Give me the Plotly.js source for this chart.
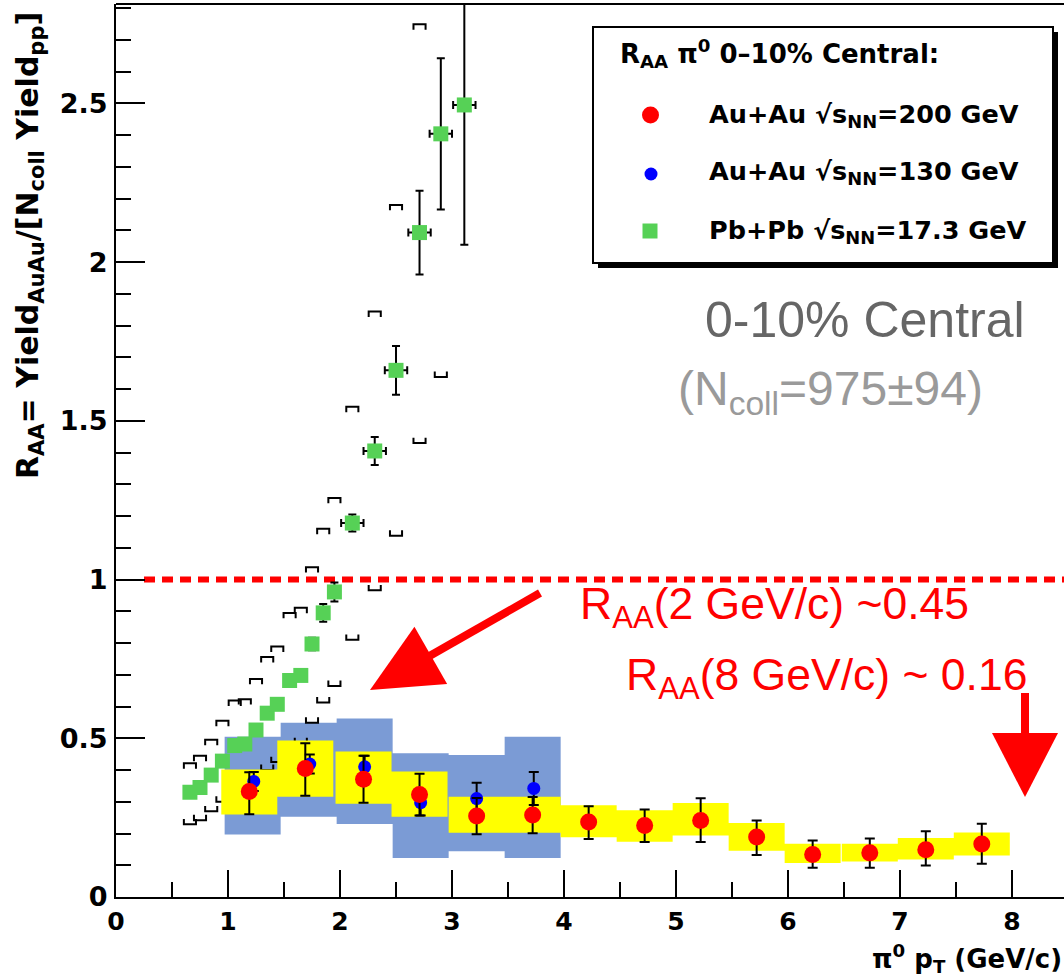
<!DOCTYPE html>
<html>
<head>
<meta charset="utf-8">
<script src="https://cdn.plot.ly/plotly-3.0.1.min.js"></script>
<style>html,body{margin:0;padding:0;background:#fff;}#plot{width:1064px;height:978px;}</style>
</head>
<body>
<div id="plot"></div>
<script>
// ---------------- data ----------------
// Au+Au sqrt(sNN)=200 GeV
const ptAuAu200 = [1.19,1.69,2.21,2.71,3.22,3.72,4.22,4.72,5.22,5.72,6.22,6.73,7.23,7.73];
const raaAuAu200 = [0.332,0.405,0.371,0.323,0.255,0.258,0.236,0.225,0.241,0.189,0.134,0.139,0.149,0.167];
const statUpAuAu200 = [0.061,0.079,0.074,0.065,0.057,0.057,0.050,0.051,0.070,0.052,0.044,0.045,0.058,0.064];
const statDownAuAu200 = [0.071,0.086,0.074,0.066,0.057,0.057,0.053,0.052,0.068,0.057,0.042,0.047,0.050,0.062];
const sysLowAuAu200 = [0.260,0.316,0.294,0.253,0.202,0.202,0.188,0.174,0.194,0.146,0.107,0.112,0.118,0.131];
const sysHighAuAu200 = [0.402,0.493,0.458,0.395,0.316,0.316,0.289,0.273,0.296,0.233,0.168,0.168,0.186,0.203];

// Au+Au sqrt(sNN)=130 GeV
const ptAuAu130 = [1.23,1.73,2.22,2.72,3.22,3.73];
const raaAuAu130 = [0.364,0.419,0.410,0.297,0.310,0.342];
const statAuAu130 = [0.030,0.030,0.035,0.040,0.050,0.052];
const sysBinAuAu130 = [1.22,1.72,2.22,2.72,3.22,3.72];
const sysLowAuAu130 = [0.197,0.253,0.230,0.123,0.144,0.123];
const sysHighAuAu130 = [0.505,0.549,0.562,0.453,0.447,0.505];

// Pb+Pb sqrt(sNN)=17.3 GeV
const ptPbPb = [0.66,0.75,0.85,0.95,1.06,1.15,1.25,1.35,1.44,1.55,1.65,1.75,1.85,1.95,2.11,2.31,2.50,2.71,2.90,3.11];
const raaPbPb = [0.330,0.345,0.384,0.428,0.477,0.482,0.526,0.579,0.607,0.682,0.698,0.797,0.895,0.961,1.178,1.405,1.659,2.093,2.404,2.495];
const statPbPb = [0.010,0.010,0.010,0.010,0.010,0.010,0.012,0.012,0.013,0.015,0.015,0.020,0.028,0.030,0.027,0.044,0.077,0.132,0.238,0.440];
const binHalfPbPb = [0.05,0.05,0.05,0.05,0.05,0.05,0.05,0.05,0.05,0.05,0.05,0.05,0.05,0.05,0.1,0.1,0.1,0.1,0.1,0.1];
const sysUpPbPb = [0.421,0.445,0.495,0.555,0.619,0.623,0.687,0.756,0.789,0.895,0.911,1.039,1.160,1.257,1.544,1.844,2.180,2.749,3.170,null];
const sysDownPbPb = [0.229,0.242,0.270,0.300,0.335,0.341,0.365,0.400,0.425,0.469,0.485,0.549,0.613,0.665,0.810,0.966,1.138,1.430,1.638,null];

// reference line R_AA = 1
const refLineX = [0.25, 8.464];
const refLineY = [1, 1];

// axis ranges
const xRange = [0, 8.464];
const yRange = [0, 2.813];

// ---------------- helpers ----------------
const L = 116, T = 4, PW = 948, PH = 893;
const px = x => (x - L) / PW;          // pixel -> paper x
const py = y => (T + PH - y) / PH;     // pixel -> paper y

function boxes(centers, lows, highs, halfW) {
  const xs = [], ys = [];
  centers.forEach((c, i) => {
    xs.push(c - halfW, c + halfW, c + halfW, c - halfW, c - halfW, null);
    ys.push(lows[i], lows[i], highs[i], highs[i], lows[i], null);
  });
  return {x: xs, y: ys};
}
function brackets(xv, up, down, hw, d) {
  const xs = [], ys = [];
  xv.forEach((x, i) => {
    if (up[i] !== null) {
      xs.push(x - hw, x - hw, x + hw, x + hw, null);
      ys.push(up[i] - d, up[i], up[i], up[i] - d, null);
    }
    if (down[i] !== null) {
      xs.push(x - hw, x - hw, x + hw, x + hw, null);
      ys.push(down[i] + d, down[i], down[i], down[i] + d, null);
    }
  });
  return {x: xs, y: ys};
}

const blueBox = boxes(sysBinAuAu130, sysLowAuAu130, sysHighAuAu130, 0.25);
const yellowBox = boxes(ptAuAu200, sysLowAuAu200, sysHighAuAu200, 0.25);
const br = brackets(ptPbPb, sysUpPbPb, sysDownPbPb, 0.054, 0.017);

const ROOTFONT = {family: 'DejaVu Sans', weight: 'bold', color: '#000'};

const traces = [
  {x: blueBox.x, y: blueBox.y, mode: 'lines', fill: 'toself', fillcolor: '#7b9bd5',
   line: {width: 0, color: '#7b9bd5'}, hoverinfo: 'skip', showlegend: false},
  {x: br.x, y: br.y, mode: 'lines', line: {width: 2, color: '#000'}, hoverinfo: 'skip', showlegend: false},
  {x: yellowBox.x, y: yellowBox.y, mode: 'lines', fill: 'toself', fillcolor: '#ffff00',
   line: {width: 0, color: '#ffff00'}, hoverinfo: 'skip', showlegend: false},
  {x: refLineX, y: refLineY, mode: 'lines', line: {color: '#ff0000', width: 6, dash: '11px,7px'},
   hoverinfo: 'skip', showlegend: false},
  {name: 'Pb+Pb 17.3 GeV', x: ptPbPb, y: raaPbPb, mode: 'markers',
   marker: {symbol: 'square', size: 15, color: '#56d156'},
   error_y: {type: 'data', array: statPbPb, color: '#000', thickness: 2, width: 4},
   error_x: {type: 'data', array: binHalfPbPb, color: '#000', thickness: 2, width: 4},
   showlegend: false},
  {name: 'Au+Au 130 GeV', x: ptAuAu130, y: raaAuAu130, mode: 'markers',
   marker: {symbol: 'circle', size: 13, color: '#0000ff'},
   error_y: {type: 'data', array: statAuAu130, color: '#000', thickness: 2, width: 5},
   showlegend: false},
  {name: 'Au+Au 200 GeV', x: ptAuAu200, y: raaAuAu200, mode: 'markers',
   marker: {symbol: 'circle', size: 17, color: '#ff0000'},
   error_y: {type: 'data', symmetric: false, array: statUpAuAu200, arrayminus: statDownAuAu200,
             color: '#000', thickness: 2, width: 5},
   showlegend: false}
];

// arrows (decoration)
function arrowShapes(tail, tip, headLen, headHalf, shaftW) {
  const dx = tip[0] - tail[0], dy = tip[1] - tail[1];
  const len = Math.hypot(dx, dy), ux = dx / len, uy = dy / len;
  const bx = tip[0] - headLen * ux, by = tip[1] - headLen * uy;
  const nx = -uy, ny = ux;
  const c1 = [bx + headHalf * nx, by + headHalf * ny], c2 = [bx - headHalf * nx, by - headHalf * ny];
  return [
    {type: 'line', xref: 'paper', yref: 'paper', x0: px(tail[0]), y0: py(tail[1]),
     x1: px(bx + 2 * ux), y1: py(by + 2 * uy), line: {color: '#ff0000', width: shaftW}, layer: 'above'},
    {type: 'path', xref: 'paper', yref: 'paper',
     path: `M${px(tip[0])},${py(tip[1])} L${px(c1[0])},${py(c1[1])} L${px(c2[0])},${py(c2[1])} Z`,
     fillcolor: '#ff0000', line: {width: 0}, layer: 'above'}
  ];
}

const shapes = [
  // top frame line
  {type: 'line', xref: 'paper', yref: 'paper', x0: 0, x1: 1, y0: 1, y1: 1, line: {color: '#000', width: 2}},
  // legend shadow + box
  {type: 'rect', xref: 'paper', yref: 'paper', x0: px(598), x1: px(1058), y0: py(268), y1: py(32),
   fillcolor: '#000', line: {width: 0}, layer: 'above'},
  {type: 'rect', xref: 'paper', yref: 'paper', x0: px(593), x1: px(1053), y0: py(263), y1: py(27),
   fillcolor: '#fff', line: {width: 2, color: '#000'}, layer: 'above'},
  // legend symbols
  {type: 'circle', xref: 'paper', yref: 'paper', x0: px(642), x1: px(659), y0: py(123.5), y1: py(106.5),
   fillcolor: '#ff0000', line: {width: 0}, layer: 'above'},
  {type: 'circle', xref: 'paper', yref: 'paper', x0: px(644.5), x1: px(657.5), y0: py(180.5), y1: py(167.5),
   fillcolor: '#0000ff', line: {width: 0}, layer: 'above'},
  {type: 'rect', xref: 'paper', yref: 'paper', x0: px(642.5), x1: px(657.5), y0: py(238.5), y1: py(223.5),
   fillcolor: '#56d156', line: {width: 0}, layer: 'above'},
  ...arrowShapes([540, 593], [370, 690], 70, 33, 8),
  ...arrowShapes([1025, 693], [1025, 797], 64, 33, 8)
];

const ann = (text, x, y, xa, size, font, extra) => Object.assign({
  text, x: px(x), y: py(y), xref: 'paper', yref: 'paper', xanchor: xa, yanchor: 'middle',
  showarrow: false, font: Object.assign({}, font, {size})
}, extra || {});

const annotations = [
  ann('0-10% Central', 1027, 320, 'right', 50, {family: 'Liberation Sans', color: '#666666'}),
  ann('(N<sub>coll</sub>=975±94)', 985, 392, 'right', 48, {family: 'Liberation Sans', color: '#9a9a9a'}),
  ann('R<sub>AA</sub>(2 GeV/c) ~0.45', 578, 607, 'left', 44.5, {family: 'Liberation Sans', color: '#ff0000'}),
  ann('R<sub>AA</sub>(8 GeV/c) ~ 0.16', 1029, 678, 'right', 44.5, {family: 'Liberation Sans', color: '#ff0000'}),
  ann('R<sub>AA</sub> π<sup>0</sup> 0–10% Central:', 618, 54, 'left', 26, ROOTFONT),
  ann('Au+Au √s<sub>NN</sub>=200 GeV', 707, 115, 'left', 25.5, ROOTFONT),
  ann('Au+Au √s<sub>NN</sub>=130 GeV', 707, 173, 'left', 25.5, ROOTFONT),
  ann('Pb+Pb √s<sub>NN</sub>=17.3 GeV', 707, 231, 'left', 25.5, ROOTFONT),
  ann('R<sub>AA</sub>= Yield<sub>AuAu</sub>/[N<sub>coll</sub> Yield<sub>pp</sub>]', 29, 246, 'center', 30, ROOTFONT,
      {textangle: -90}),
  ann('π<sup>0</sup> p<sub>T</sub> (GeV/c)', 1063, 958, 'right', 26, ROOTFONT, {borderpad: 0})
];

const layout = {
  width: 1064, height: 978,
  margin: {l: L, r: 1064 - L - PW, t: T, b: 978 - T - PH, pad: 0},
  paper_bgcolor: '#fff', plot_bgcolor: '#fff',
  showlegend: false, hovermode: false,
  xaxis: {
    range: xRange, showgrid: false, zeroline: false, showline: true, linecolor: '#000', linewidth: 2,
    ticks: 'inside', ticklen: 27, tickwidth: 2, tickcolor: '#000', dtick: 1, tick0: 0,
    minor: {dtick: 0.5, ticks: 'inside', ticklen: 15, tickwidth: 2, tickcolor: '#000', showgrid: false},
    tickfont: Object.assign({}, ROOTFONT, {size: 25}), ticklabelstandoff: 1
  },
  yaxis: {
    range: yRange, showgrid: false, zeroline: false, showline: true, linecolor: '#000', linewidth: 2,
    ticks: 'inside', ticklen: 29, tickwidth: 2, tickcolor: '#000', dtick: 0.5, tick0: 0,
    minor: {dtick: 0.1, ticks: 'inside', ticklen: 15, tickwidth: 2, tickcolor: '#000', showgrid: false},
    tickfont: Object.assign({}, ROOTFONT, {size: 27}), ticklabelstandoff: 1
  },
  shapes, annotations
};

Plotly.newPlot('plot', traces, layout, {displayModeBar: false, staticPlot: true});
</script>
</body>
</html>
